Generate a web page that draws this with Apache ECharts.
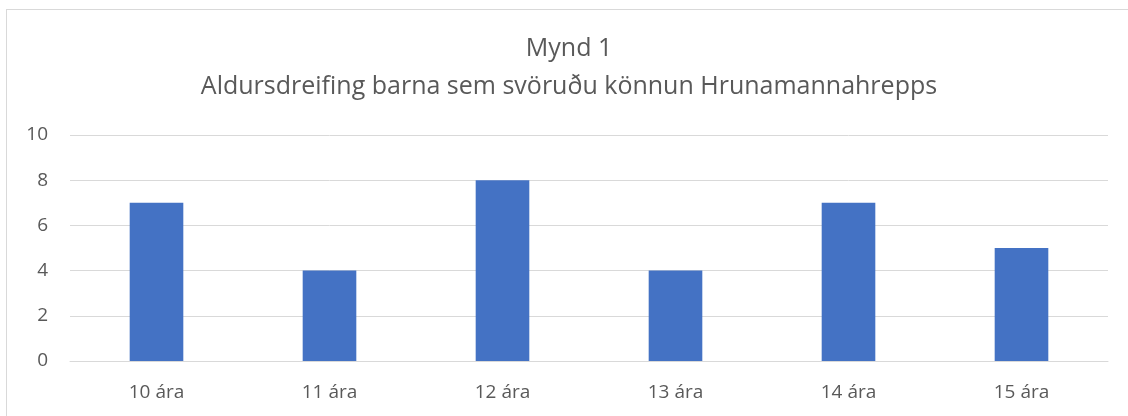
<!DOCTYPE html>
<html>
<head>
    <meta charset="utf-8">
    <title>Mynd 1</title>
    <style>
        html,body{
            width:100%;
            height:100%;
            overflow:hidden;
            padding:0;
            margin:0;
            background:#fff;
        }
        #main{
            position:absolute;
            left:6px;
            top:9px;
            width:1124px;
            height:410px;
            border:1px solid #d9d9d9;
        }
    </style>
    <script src="https://cdn.jsdelivr.net/npm/echarts@6/dist/echarts.min.js"></script>
</head>
<body>
<div id="main"></div>

<script type="text/javascript">
    // gögn
    var categories = ['10 ára', '11 ára', '12 ára', '13 ára', '14 ára', '15 ára'];
    var values = [7, 4, 8, 4, 7, 5];
    var titleLines = ['Mynd 1', 'Aldursdreifing barna sem svöruðu könnun Hrunamannahrepps'];

    var myChart = echarts.init(document.getElementById('main'));

    var option = {
        animation: false,
        title: {
            text: titleLines.join('\n'),
            left: 'center',
            top: 15,
            textStyle: {
                fontFamily: 'Open Sans',
                fontWeight: 'normal',
                fontSize: 25,
                color: '#595959',
                lineHeight: 38
            }
        },
        grid: {
            left: 63,
            right: 23,
            top: 125,
            bottom: 59
        },
        xAxis: {
            type: 'category',
            data: categories,
            axisTick: { show: false },
            axisLine: { lineStyle: { color: '#d9d9d9', width: 1 } },
            axisLabel: {
                color: '#595959',
                fontFamily: 'Open Sans',
                fontSize: 19,
                margin: 22
            }
        },
        yAxis: {
            type: 'value',
            min: 0,
            max: 10,
            interval: 2,
            axisLine: { show: false },
            axisTick: { show: false },
            splitLine: { lineStyle: { color: '#d9d9d9', width: 1 } },
            axisLabel: {
                color: '#595959',
                fontFamily: 'Open Sans',
                fontSize: 19,
                margin: 22
            }
        },
        series: [{
            type: 'bar',
            data: values,
            barWidth: '31%',
            itemStyle: { color: '#4472c4' }
        }]
    };

    myChart.setOption(option);
</script>
</body>
</html>
